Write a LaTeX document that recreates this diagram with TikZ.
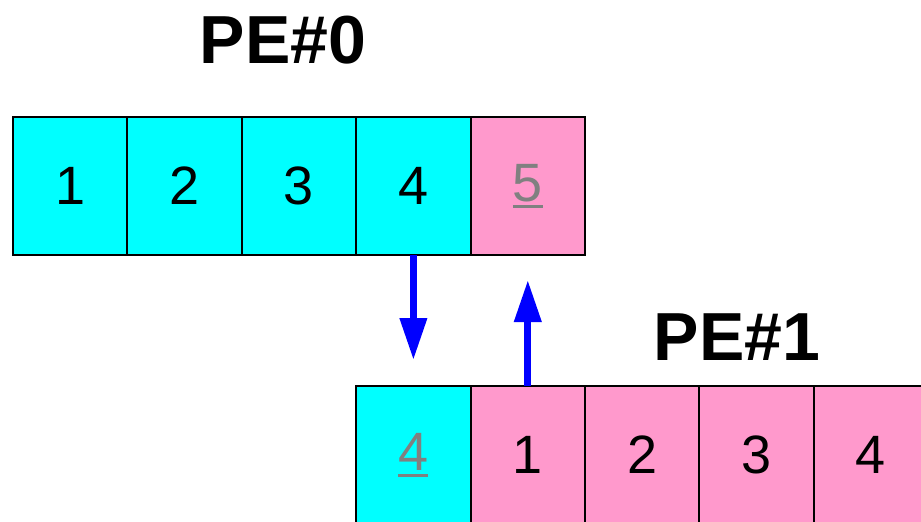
\documentclass[tikz,border=0pt]{standalone}
\usepackage{fontspec}
\setmainfont{Liberation Sans}
\usetikzlibrary{arrows.meta}
\definecolor{cellcyan}{RGB}{0,255,255}
\definecolor{cellpink}{RGB}{255,153,204}
\definecolor{ghost}{RGB}{128,128,128}
\tikzset{
  cell/.style={draw=black, line width=2pt, minimum width=114.4pt, minimum height=138pt, inner sep=0pt, outer sep=0pt, font=\fontsize{54}{60}\selectfont},
  own/.style={cell, fill=cellcyan},
  other/.style={cell, fill=cellpink},
  halo/.style={text=ghost},
  title/.style={font=\fontsize{68}{76}\selectfont\bfseries, inner sep=0pt},
  xfer/.style={draw=blue, line width=7pt, -{Triangle[length=42pt,width=26pt]}}
}
\newcommand{\ghostnum}[1]{\setbox0\hbox{#1}\rlap{\rule[-6pt]{\wd0}{2.5pt}}\box0}
\begin{document}
\begin{tikzpicture}[x=1pt,y=-1pt]
\useasboundingbox (0,0) rectangle (921,522);
\clip (0,0) rectangle (921,522);
% PE#0 row
\node[own]   (t1) at (70.2,186) {1};
\node[own]   (t2) at (184.6,186) {2};
\node[own]   (t3) at (299,186) {3};
\node[own]   (t4) at (413.4,186) {4};
\node[other, halo] (t5) at (527.8,186) {\ghostnum{5}};
% PE#1 row
\node[own, halo] (b0) at (413.4,455) {\ghostnum{4}};
\node[other] (b1) at (527.8,455) {1};
\node[other] (b2) at (642.2,455) {2};
\node[other] (b3) at (756.6,455) {3};
\node[other] (b4) at (871,455) {4};
% titles
\node[title] (pe0) at (283,40) {PE\#0};
\node[title] (pe1) at (737,337) {PE\#1};
% arrows
\coordinate (dtip) at (413.4,360);
\coordinate (utip) at (527.8,280);
\draw[xfer] (t4.south) -- (dtip);
\draw[xfer] (b1.north) -- (utip);
\end{tikzpicture}
\end{document}
